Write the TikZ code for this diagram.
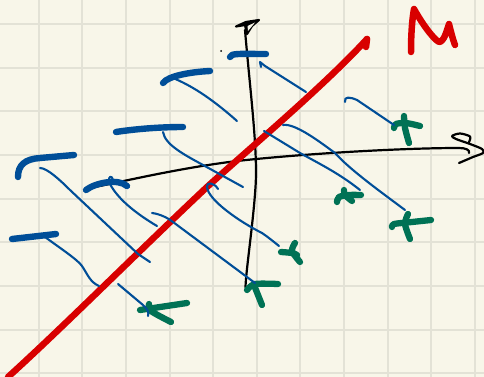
\documentclass[tikz,border=0pt]{standalone}
\definecolor{paper}{HTML}{F8F6E9}
\definecolor{gridc}{HTML}{E3E2D6}
\definecolor{inkblue}{HTML}{004E98}
\definecolor{inkgreen}{HTML}{007255}
\definecolor{inkred}{HTML}{D80000}
\tikzset{
  gridline/.style={draw=gridc,line width=2.2pt},
  pen/.style={line cap=round,line join=round},
  blackpen/.style={pen,draw=black,line width=2.2pt},
  redpen/.style={pen,draw=inkred,line width=6.5pt},
  thickblue/.style={pen,draw=inkblue,line width=6.4pt},
  greenpen/.style={pen,draw=inkgreen,line width=6.3pt},
  thinblue/.style={pen,draw=inkblue,line width=2.1pt},
}
\begin{document}
\begin{tikzpicture}[x=1pt,y=-1pt]
\useasboundingbox (0,0) rectangle (484,377);
\fill[paper] (0,0) rectangle (484,377);
% grid
\foreach \gx in {38.7,82.3,126,169.7,213.3,257,300.3,343.7,387.7,431.3,474.7}
  \draw[gridline] (\gx,0) -- (\gx,377);
\foreach \gy in {24,67.7,111,154.7,198.7,242,286,329.7,373}
  \draw[gridline] (0,\gy) -- (484,\gy);
% axes
\draw[blackpen] (245,30) .. controls (250,90) and (258,150) .. (255.5,187) .. controls (253,225) and (246,270) .. (245.5,287) -- (247,290);
\draw[blackpen,fill=black] (236,26.5) -- (246,22) -- (259,20) -- (252,26) -- (247,34) -- (245,25) -- cycle;
\fill[paper] (247.5,26) -- (255,22.5) -- (248,31) -- cycle;
\draw[blackpen] (90,188) .. controls (130,180) and (180,168) .. (237,161) .. controls (300,154) and (400,148) .. (459,148) .. controls (466,148) and (470,150) .. (469,153);
\draw[blackpen] plot[smooth] coordinates {(469,142) (470,136.5) (460,133.5) (452,136) (456,139) (470,144) (482,149) (483,153) (473,157) (459,163)};
\fill (221,51) circle (1pt);
% red
\draw[redpen] (8,377) .. controls (60,330) and (140,250) .. (207,187) .. controls (250,148) and (325,85) .. (367,39);
\draw[redpen] (367,39) -- (366,47);
\draw[redpen] (411,52) .. controls (411,35) and (412,20) .. (414,9) .. controls (420,20) and (432,38) .. (439,42) .. controls (444,42) and (447,30) .. (449,24) .. controls (451,32) and (453,40) .. (455,45);
% green
\draw[greenpen] plot[smooth] coordinates {(394,128) (396,124) (406,123) (420,126)};
\draw[greenpen] plot[smooth] coordinates {(404,116) (405,128) (409,143)};
\draw[greenpen] plot[smooth] coordinates {(392,227) (394,224) (412,222) (431,220)};
\draw[greenpen] plot[smooth] coordinates {(408,214) (405,224) (410,239)};
\draw[greenpen] plot[smooth] coordinates {(337,202) (339,197) (349,195) (361,195)};
\draw[greenpen] plot[smooth] coordinates {(344,190) (345,195) (352,201)};
\draw[greenpen] plot[smooth] coordinates {(281,252) (292,253) (297,255)};
\draw[greenpen] plot[smooth] coordinates {(295,243) (292,251) (300,262)};
\draw[greenpen] plot[smooth] coordinates {(247,290) (255,284) (278,284)};
\draw[greenpen] (254,285) -- (262,305);
\draw[greenpen] (140,310) -- (187,303);
\draw[greenpen] plot[smooth] coordinates {(149,304) (151,311) (171,322)};
% thick blue
\draw[thickblue] (18,177) .. controls (18,165) and (25,159) .. (40,158) -- (74,155);
\draw[thickblue] (116,132) .. controls (135,129) and (160,127) .. (183,127);
\draw[thickblue] (163,83) .. controls (168,76) and (190,72) .. (210,71);
\draw[thickblue] (230,57) .. controls (231,53) and (240,54) .. (266,54);
\draw[thickblue] (86,190) .. controls (95,183) and (118,178) .. (127,186);
\draw[thickblue] (12,239) -- (56,234);
% thin blue
\draw[thinblue] (40,168) .. controls (47,168) and (60,180) .. (70,190) -- (138,254) -- (150,262);
\draw[thinblue] (45,237) .. controls (60,248) and (78,260) .. (82,266) .. controls (88,275) and (90,282) .. (99,286);
\draw[thinblue] (118,284) -- (143,305) .. controls (148,310) and (149,312) .. (148,316);
\draw[thinblue] (113,180) .. controls (112,175) and (108,176) .. (109,182) .. controls (115,195) and (130,210) .. (157,226);
\draw[thinblue] (152,213) .. controls (160,214) and (168,218) .. (173,222) -- (255,283);
\draw[thinblue] (218,189) .. controls (214,182) and (206,182) .. (207,187) .. controls (208,200) and (240,222) .. (262,233) .. controls (268,237) and (274,242) .. (279,246);
\draw[thinblue] (163,132) .. controls (165,145) and (185,155) .. (203,165) -- (243,187);
\draw[thinblue] (173,78) .. controls (190,85) and (210,97) .. (237,121);
\draw[thinblue] (260,62) -- (261,67) (260,62) -- (265,66) -- (306,92);
\draw[thinblue] (345,102) .. controls (344,96) and (350,97) .. (357,100) -- (394,125);
\draw[thinblue] (283,125) .. controls (295,123) and (320,142) .. (335,153) .. controls (350,170) and (385,195) .. (405,210);
\draw[thinblue] (264,131) -- (300,153) .. controls (320,164) and (340,174) .. (360,190);
\end{tikzpicture}
\end{document}
